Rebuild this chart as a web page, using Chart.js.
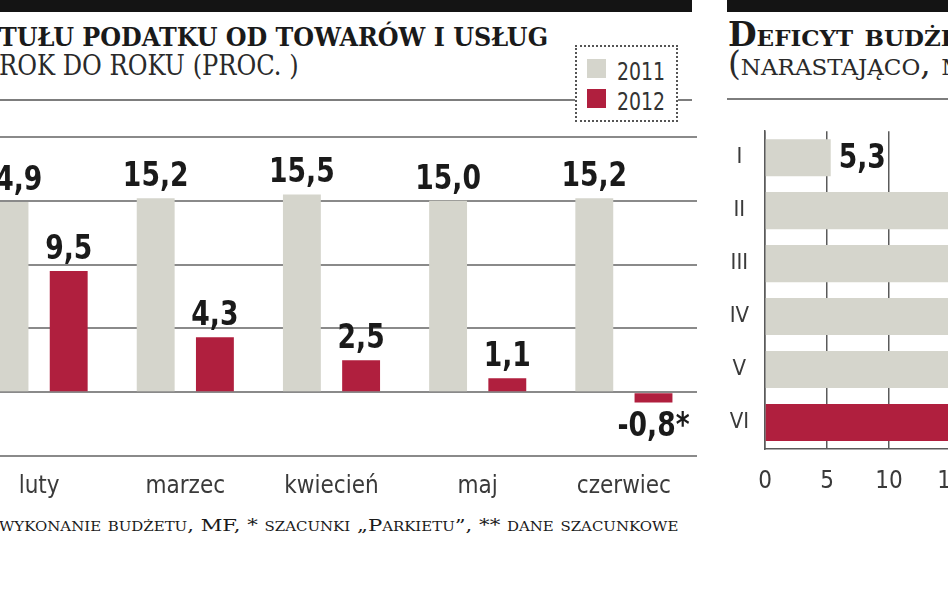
<!DOCTYPE html>
<html>
<head>
<meta charset="utf-8">
<script src="https://cdn.jsdelivr.net/npm/chart.js@4"></script>
<style>
  html, body { margin: 0; padding: 0; background: #fff; }
  body { width: 948px; height: 593px; position: relative; overflow: hidden; }
  .abs { position: absolute; white-space: nowrap; }
  .bar-top { background: #141414; height: 12px; top: 0; }
  .rule { height: 2px; background: #7d7d7d; }
  .title { font-family: "DejaVu Serif", serif; font-weight: bold; color: #1a1a1a; transform-origin: left top; }
  .sub { font-family: "DejaVu Serif", serif; color: #2a2a2a; transform-origin: left top; }
  .legend { left: 575px; top: 45px; width: 99px; height: 73px; border: 2px dotted #555; background: #fff; }
  .legend div { position: absolute; left: 10px; width: 19px; height: 19px; }
  .legend span { position: absolute; left: 40px; font: 25px "DejaVu Sans Condensed", sans-serif; color: #333; line-height: 25px; transform: scaleX(0.84); transform-origin: left top; }
  .foot { font-family: "DejaVu Serif", serif; font-variant: small-caps; color: #1a1a1a; transform-origin: left top; }
</style>
</head>
<body>
<div class="abs bar-top" style="left:0; width:692px;"></div>
<div class="abs bar-top" style="left:727px; width:221px;"></div>

<div class="abs title" id="titleL" style="left:-1px; top:22px; font-size:26px; line-height:30px;">TUŁU PODATKU OD TOWARÓW I USŁUG</div>
<div class="abs sub" id="subL" style="left:-1px; top:49px; font-size:28px; line-height:34px;">ROK DO ROKU (PROC. )</div>
<div class="abs rule" style="left:0; top:99px; width:692px;"></div>

<div class="abs legend">
  <div style="top:12px; background:#d5d5cc;"></div><span style="top:12px;">2011</span>
  <div style="top:42px; background:#b01f3e;"></div><span style="top:42px;">2012</span>
</div>

<div class="abs title" style="left:728px; top:16px; font-size:33px; line-height:38px; font-variant:small-caps;">Deficyt budżetu państwa</div>
<div class="abs sub" style="left:728px; top:45px; font-size:33px; line-height:38px; font-variant:small-caps;">(narastająco, mld zł)</div>
<div class="abs rule" style="left:727px; top:98px; width:221px;"></div>

<div class="abs" style="left:-34px; top:130px; width:731px; height:376px;"><canvas id="vatChart"></canvas></div>
<div class="abs" style="left:715px; top:110px; width:378px; height:387px;"><canvas id="deficitChart"></canvas></div>

<div class="abs foot" id="footL" style="left:-1px; top:514px; font-size:17px; line-height:22px;">wykonanie budżetu, MF, * szacunki „Parkietu”, ** dane szacunkowe</div>

<script>
// VAT receipts, change year on year (%)
const months = ['luty', 'marzec', 'kwiecień', 'maj', 'czerwiec'];
const vat2011 = [14.9, 15.2, 15.5, 15.0, 15.2];
const vat2012 = [9.5, 4.3, 2.5, 1.1, -0.8];
const notes2012 = ['', '', '', '', '*'];
const vatTicks = { min: -5, max: 20, step: 5 };

// Budget deficit, cumulative
const deficitMonths = ['I', 'II', 'III', 'IV', 'V', 'VI'];
const deficit = [5.3, 16.4, 19.5, 21.0, 20.3, 22.5];
const deficitHighlight = 5;
const deficitTicks = { min: 0, max: 25, step: 5, lastLabel: 15 };

const GRAY = '#d5d5cc';
const RED = '#b01f3e';
const GRID = '#8a8a8a';
const NUM_FONT = '"DejaVu Sans Condensed", "DejaVu Sans", sans-serif';

function fmt(v) {
    return v.toFixed(1).replace('.', ',');
}

// Fit the headline texts to the widths in the picture
function fitWidth(id, w) {
    const el = document.getElementById(id);
    el.style.transform = 'scaleX(' + (w / el.offsetWidth) + ')';
}
fitWidth('titleL', 549);
fitWidth('subL', 300);
fitWidth('footL', 679);

// Draw values next to the bars, in a narrowed bold face
const valueLabels = {
    id: 'valueLabels',
    afterDatasetsDraw(chart, args, opts) {
        const ctx = chart.ctx;
        chart.data.datasets.forEach((ds, di) => {
            const meta = chart.getDatasetMeta(di);
            meta.data.forEach((bar, i) => {
                const v = ds.data[i];
                const txt = fmt(v) + ((ds.notes && ds.notes[i]) || '');
                ctx.save();
                ctx.font = 'bold 34px ' + NUM_FONT;
                ctx.fillStyle = '#1a1a1a';
                if (opts.horizontal) {
                    ctx.translate(bar.x + 8, bar.y + 1);
                    ctx.textAlign = 'left';
                    ctx.textBaseline = 'middle';
                } else if (v >= 0) {
                    ctx.translate(bar.x, bar.y - 12);
                    ctx.textAlign = 'center';
                    ctx.textBaseline = 'alphabetic';
                } else {
                    ctx.translate(bar.x, bar.y + 8);
                    ctx.textAlign = 'center';
                    ctx.textBaseline = 'top';
                }
                ctx.scale(0.87, 1);
                ctx.fillText(txt, 0, 0);
                ctx.restore();
            });
        });
    }
};

new Chart(document.getElementById('vatChart'), {
    type: 'bar',
    data: {
        labels: months,
        datasets: [
            { label: '2011', data: vat2011, backgroundColor: GRAY },
            { label: '2012', data: vat2012, backgroundColor: RED, notes: notes2012 }
        ]
    },
    options: {
        responsive: true,
        maintainAspectRatio: false,
        animation: false,
        categoryPercentage: 0.81,
        barPercentage: 0.64,
        layout: { padding: { top: 7, left: 0, right: 0, bottom: 0 } },
        plugins: {
            legend: { display: false },
            tooltip: { enabled: false },
            valueLabels: { horizontal: false }
        },
        scales: {
            x: {
                grid: { display: false },
                border: { display: false },
                ticks: {
                    padding: 8,
                    color: '#3a3a3a',
                    font: { family: NUM_FONT, size: 24 }
                },
                afterFit(scale) { scale.height = 50; }
            },
            y: {
                min: vatTicks.min,
                max: vatTicks.max,
                ticks: { stepSize: vatTicks.step, display: false },
                grid: { color: GRID, lineWidth: 2, drawTicks: false },
                border: { display: false },
                afterFit(scale) { scale.width = 0; }
            }
        }
    },
    plugins: [valueLabels]
});

new Chart(document.getElementById('deficitChart'), {
    type: 'bar',
    data: {
        labels: deficitMonths,
        datasets: [{
            label: 'deficyt',
            data: deficit,
            backgroundColor: deficit.map((v, i) => i === deficitHighlight ? RED : GRAY)
        }]
    },
    options: {
        indexAxis: 'y',
        responsive: true,
        maintainAspectRatio: false,
        animation: false,
        categoryPercentage: 0.8,
        barPercentage: 0.875,
        layout: { padding: { top: 13, left: 0, right: 0, bottom: 0 } },
        plugins: {
            legend: { display: false },
            tooltip: { enabled: false },
            valueLabels: { horizontal: true }
        },
        scales: {
            x: {
                min: deficitTicks.min,
                max: deficitTicks.max,
                grid: { color: '#5a5a5a', lineWidth: 1.5, drawTicks: false },
                border: { color: '#5a5a5a', width: 1.5 },
                ticks: {
                    stepSize: deficitTicks.step,
                    padding: 18,
                    color: '#3a3a3a',
                    font: { family: NUM_FONT, size: 24 },
                    callback: v => v <= deficitTicks.lastLabel ? String(v) : ''
                },
                afterFit(scale) { scale.height = 48; }
            },
            y: {
                grid: { display: false },
                border: { color: '#5a5a5a', width: 1.5 },
                ticks: {
                    crossAlign: 'center',
                    padding: 8,
                    color: '#3a3a3a',
                    font: { family: NUM_FONT, size: 22 }
                },
                afterFit(scale) { scale.width = 50; }
            }
        }
    },
    plugins: [valueLabels]
});
</script>
</body>
</html>
